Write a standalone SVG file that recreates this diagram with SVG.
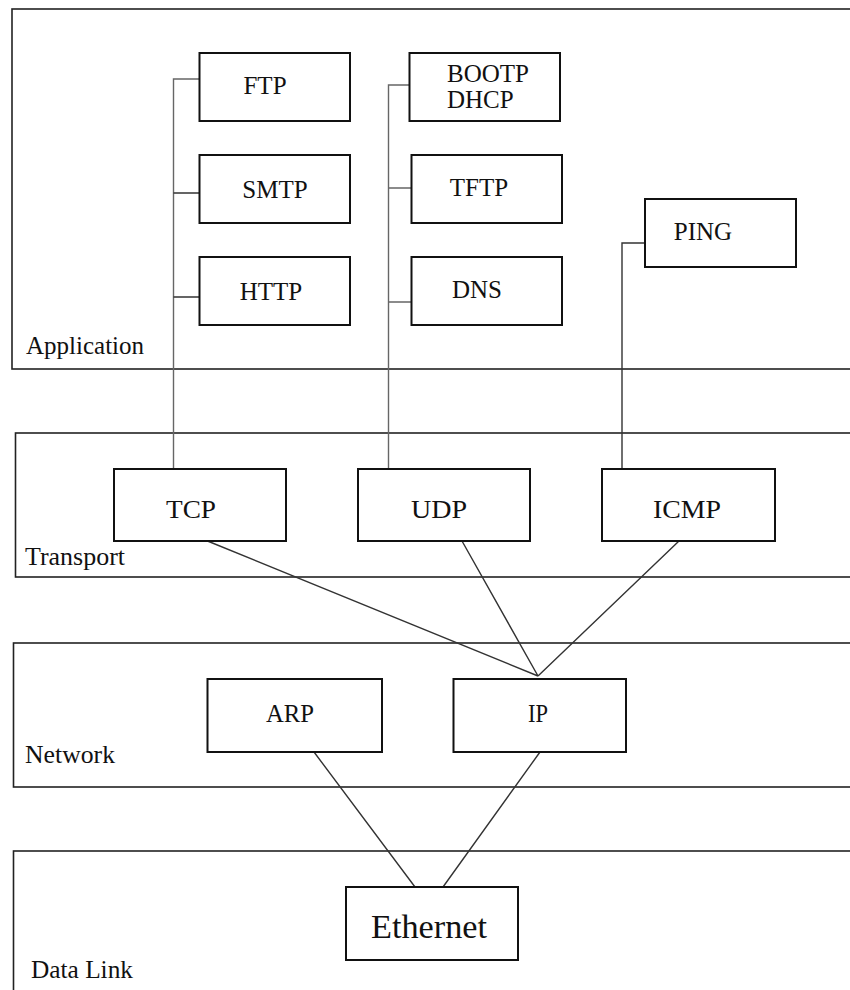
<svg xmlns="http://www.w3.org/2000/svg" width="850" height="990" viewBox="0 0 850 990">
<style>
.layer{fill:none;stroke:#222;stroke-width:1.6}
.box{fill:#fff;stroke:#111;stroke-width:2}
.t{font-family:"Liberation Serif","Times New Roman",serif;font-size:25px;fill:#111}
.c{text-anchor:middle}
.conn{fill:none;stroke:#333;stroke-width:1.4}
.g{stroke:#666}
</style>
<rect width="850" height="990" fill="#fff"/>
<g id="layer-application"><rect class="layer" x="12" y="9" width="850" height="360"/><text class="t" x="26" y="354">Application</text></g>
<g id="layer-transport"><rect class="layer" x="15.5" y="433" width="850" height="144"/><text class="t" x="25" y="565" textLength="100" lengthAdjust="spacingAndGlyphs">Transport</text></g>
<g id="layer-network"><rect class="layer" x="13.5" y="643" width="850" height="144"/><text class="t" x="25" y="763" textLength="90" lengthAdjust="spacingAndGlyphs">Network</text></g>
<g id="layer-datalink"><rect class="layer" x="13.5" y="851" width="850" height="200"/><text class="t" x="31" y="978" textLength="102" lengthAdjust="spacingAndGlyphs">Data Link</text></g>
<g id="connectors">
<path class="conn g" d="M173.5,469 V79 H200"/>
<path class="conn" d="M173.5,193 H200 M173.5,297 H200"/>
<path class="conn g" d="M388.5,469 V85 H410 M388.5,188 H412 M388.5,302 H412"/>
<path class="conn" d="M622,469 V243 H645"/>
<path class="conn" d="M207.5,541 L538,676 M462,541 L538,676 M679,541 L538,676"/>
<path class="conn" d="M314,752 L415,887 M540,752 L443,887"/>
</g>
<g id="ftp"><rect class="box" x="199.5" y="53" width="150.5" height="68"/><text class="t" x="265" y="94" text-anchor="middle">FTP</text></g>
<g id="smtp"><rect class="box" x="199.5" y="155" width="150.5" height="68"/><text class="t" x="275" y="198" text-anchor="middle">SMTP</text></g>
<g id="http"><rect class="box" x="199.5" y="257" width="150.5" height="68"/><text class="t" x="271" y="300" text-anchor="middle">HTTP</text></g>
<g id="bootp"><rect class="box" x="409.5" y="53" width="150.5" height="68"/><text class="t" x="447" y="82">BOOTP</text><text class="t" x="447" y="108">DHCP</text></g>
<g id="tftp"><rect class="box" x="411.5" y="155" width="150.5" height="68"/><text class="t" x="479" y="196" text-anchor="middle">TFTP</text></g>
<g id="dns"><rect class="box" x="411.5" y="257" width="150.5" height="68"/><text class="t" x="477" y="298" text-anchor="middle">DNS</text></g>
<g id="ping"><rect class="box" x="645" y="199" width="151" height="68"/><text class="t" x="703" y="240" text-anchor="middle">PING</text></g>
<g id="tcp"><rect class="box" x="114" y="469" width="172" height="72"/><text class="t" x="191" y="518" text-anchor="middle" textLength="50" lengthAdjust="spacingAndGlyphs">TCP</text></g>
<g id="udp"><rect class="box" x="358" y="469" width="172" height="72"/><text class="t" x="439" y="518" text-anchor="middle" textLength="56" lengthAdjust="spacingAndGlyphs">UDP</text></g>
<g id="icmp"><rect class="box" x="602" y="469" width="173" height="72"/><text class="t" x="687" y="518" text-anchor="middle" textLength="68" lengthAdjust="spacingAndGlyphs">ICMP</text></g>
<g id="arp"><rect class="box" x="207.5" y="679" width="174.5" height="73"/><text class="t" x="290" y="722" text-anchor="middle" textLength="48" lengthAdjust="spacingAndGlyphs">ARP</text></g>
<g id="ip"><rect class="box" x="453.5" y="679" width="172.5" height="73"/><text class="t" x="538" y="722" text-anchor="middle" textLength="20" lengthAdjust="spacingAndGlyphs">IP</text></g>
<g id="ethernet"><rect class="box" x="346" y="887" width="172" height="73"/><text class="t" x="429" y="938" text-anchor="middle" style="font-size:33px" textLength="116" lengthAdjust="spacingAndGlyphs">Ethernet</text></g>
</svg>
